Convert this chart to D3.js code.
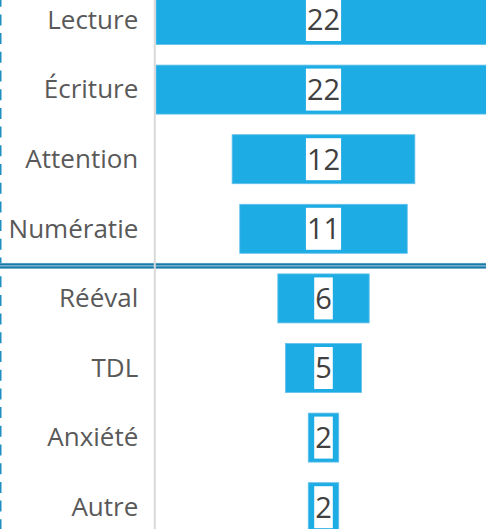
<!DOCTYPE html>
<html>
<head>
<meta charset="utf-8">
<script src="https://cdn.jsdelivr.net/npm/d3@7"></script>
<style>
  html, body { margin: 0; padding: 0; background: #ffffff; overflow: hidden; }
  svg { display: block; }
</style>
</head>
<body>
<div id="chart"></div>
<script>
// Funnel of referral reasons (cropped view)
const categories = ["Lecture", "Écriture", "Attention", "Numératie", "Rééval", "TDL", "Anxiété", "Autre"];
const counts = [22, 22, 12, 11, 6, 5, 2, 2];
// the double rule sits above this category
const splitBefore = "Rééval";

const width = 486, height = 529;

const svg = d3.select("#chart")
  .append("svg")
  .attr("width", width)
  .attr("height", height)
  .style("background", "#ffffff");

// Scales: bars are centred on 0
const y = d3.scaleBand()
  .domain(categories)
  .range([-14.8, -14.8 + categories.length * 69.6])
  .paddingInner(0.296)
  .paddingOuter(0.148);

const half = d3.max(counts) / 2;
const x = d3.scaleLinear()
  .domain([-half, half])
  .range([156, 491]);

// Left dashed border
svg.append("line")
  .attr("x1", 0.75).attr("x2", 0.75)
  .attr("y1", 0).attr("y2", height)
  .attr("stroke", "#1e8fc0")
  .attr("stroke-width", 1.5)
  .attr("stroke-dasharray", "11 7.7")
  .attr("stroke-dashoffset", 4.3);

// Bars
svg.selectAll(".bar")
  .data(categories)
  .join("rect")
  .attr("class", "bar")
  .attr("x", (d, i) => x(-counts[i] / 2))
  .attr("width", (d, i) => x(counts[i] / 2) - x(-counts[i] / 2))
  .attr("y", d => y(d))
  .attr("height", y.bandwidth())
  .attr("fill", "#1eace4")
  .attr("stroke", "#62c0ea")
  .attr("stroke-width", 0.8);

// Double separator rule
const sepY = y(splitBefore) - 8;
const sep = svg.append("g").attr("class", "separator");
sep.append("rect")
  .attr("x", 0).attr("width", width)
  .attr("y", sepY - 3).attr("height", 6)
  .attr("fill", "#8cbfd8");
[-1.5, 1.5].forEach(off => {
  sep.append("line")
    .attr("x1", 0).attr("x2", width)
    .attr("y1", sepY + off).attr("y2", sepY + off)
    .attr("stroke", "#1a7aa7")
    .attr("stroke-width", 1.8);
});

// Category axis
const axis = svg.append("g")
  .attr("class", "y-axis")
  .attr("transform", "translate(154.3,0)")
  .call(d3.axisLeft(y).tickSize(0).tickPadding(16));

axis.select(".domain")
  .attr("stroke", "#d9d9d9")
  .attr("stroke-width", 2);

axis.selectAll("text")
  .attr("fill", "#595959")
  .attr("dy", "0.34em")
  .style("font-family", "'Open Sans', sans-serif")
  .style("font-size", "26px");

// Value labels on white boxes
const labels = svg.selectAll(".value")
  .data(categories)
  .join("g")
  .attr("class", "value");

labels.append("text")
  .attr("x", (d, i) => x(0))
  .attr("y", d => y(d) + y.bandwidth() / 2)
  .attr("dy", "0.36em")
  .attr("text-anchor", "middle")
  .attr("fill", "#404040")
  .style("font-family", "'Open Sans', sans-serif")
  .style("font-size", "29px")
  .text((d, i) => counts[i]);

labels.each(function(d) {
  const g = d3.select(this);
  const bb = g.select("text").node().getBBox();
  g.insert("rect", "text")
    .attr("x", bb.x - 1)
    .attr("width", bb.width + 2)
    .attr("y", y(d) + y.bandwidth() / 2 - 21)
    .attr("height", 42)
    .attr("fill", "#ffffff");
});
</script>
</body>
</html>
